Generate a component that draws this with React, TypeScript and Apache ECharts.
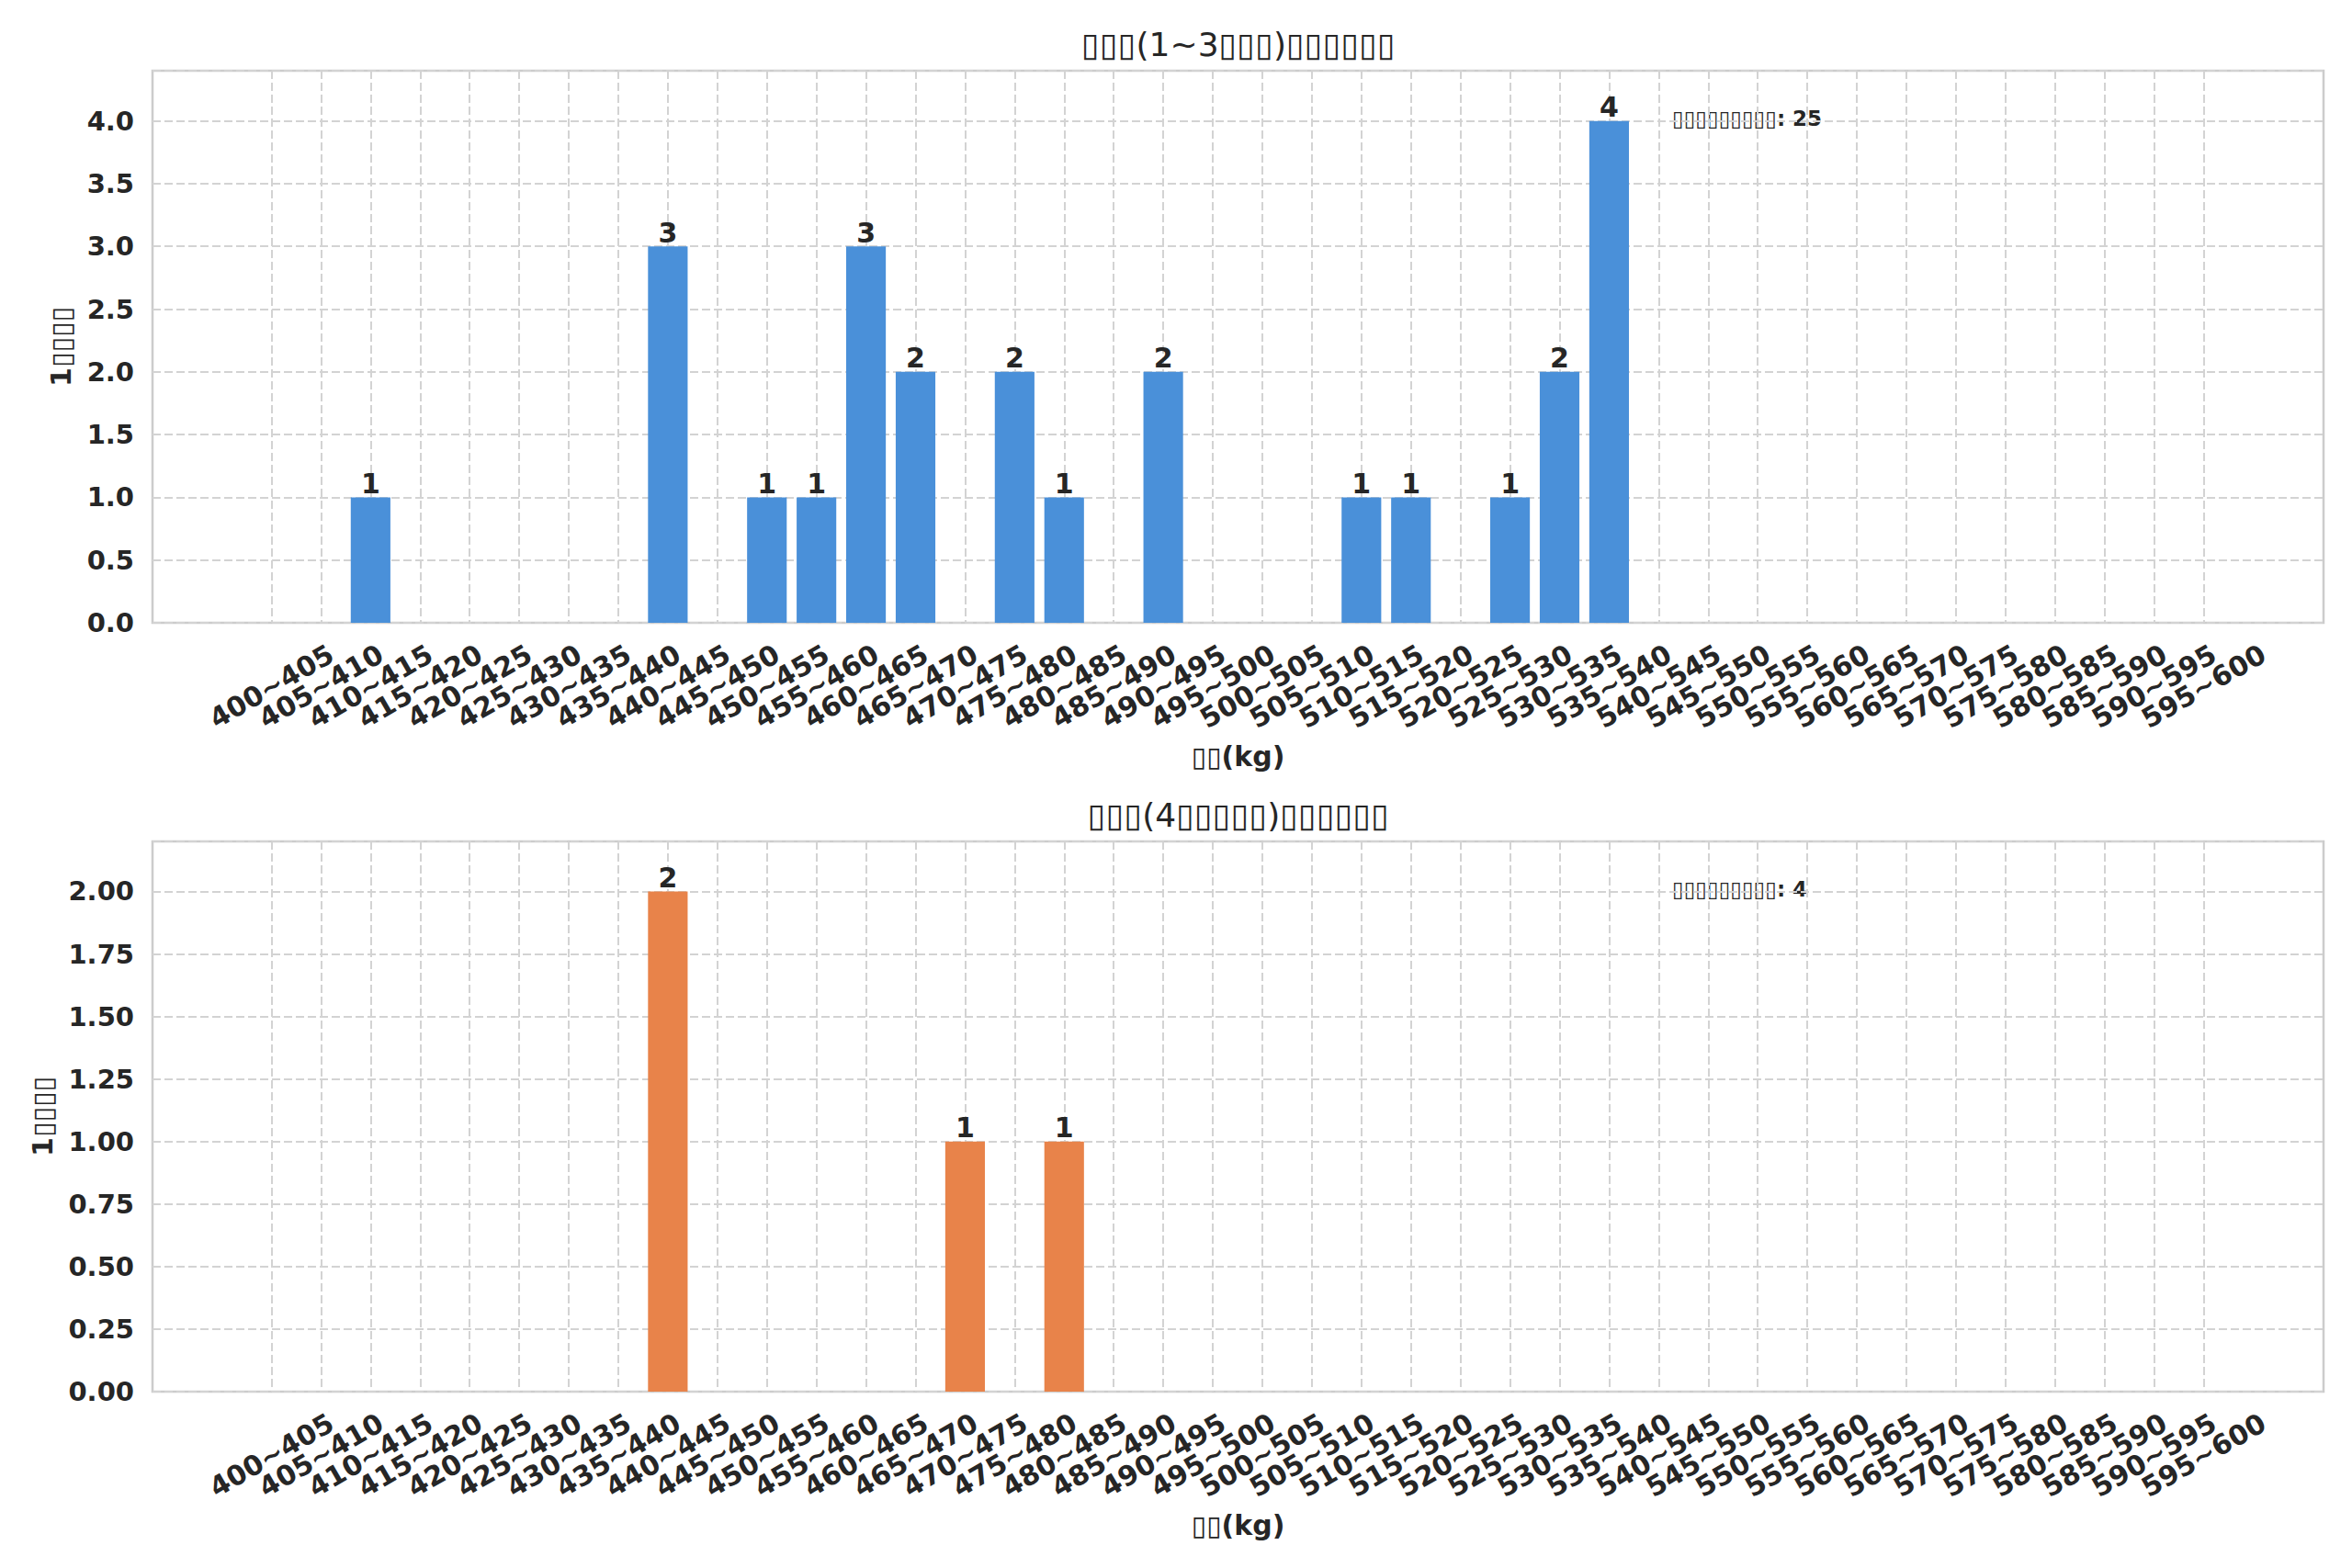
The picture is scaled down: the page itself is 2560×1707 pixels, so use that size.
import React, { useEffect, useRef } from "react";
import * as echarts from "echarts";

const categories = [
  "400~405", "405~410", "410~415", "415~420", "420~425", "425~430", "430~435", "435~440",
  "440~445", "445~450", "450~455", "455~460", "460~465", "465~470", "470~475", "475~480",
  "480~485", "485~490", "490~495", "495~500", "500~505", "505~510", "510~515", "515~520",
  "520~525", "525~530", "530~535", "535~540", "540~545", "545~550", "550~555", "555~560",
  "560~565", "565~570", "570~575", "575~580", "580~585", "585~590", "590~595", "595~600",
];

const topValues = [
  0, 0, 1, 0, 0, 0, 0, 0,
  3, 0, 1, 1, 3, 2, 0, 2,
  1, 0, 2, 0, 0, 0, 1, 1,
  0, 1, 2, 4, 0, 0, 0, 0,
  0, 0, 0, 0, 0, 0, 0, 0,
];

const bottomValues = [
  0, 0, 0, 0, 0, 0, 0, 0,
  2, 0, 0, 0, 0, 0, 1, 0,
  1, 0, 0, 0, 0, 0, 0, 0,
  0, 0, 0, 0, 0, 0, 0, 0,
  0, 0, 0, 0, 0, 0, 0, 0,
];

const topTitle = "▯▯▯(1~3▯▯▯)▯▯▯▯▯▯";
const bottomTitle = "▯▯▯(4▯▯▯▯▯)▯▯▯▯▯▯";
const xName = "▯▯(kg)";
const yName = "1▯▯▯▯";
const topNote = "▯▯▯▯▯▯▯▯▯: 25";
const bottomNote = "▯▯▯▯▯▯▯▯▯: 4";

const topYMax = 4.4;
const topYInterval = 0.5;
const bottomYMax = 2.2;
const bottomYInterval = 0.25;

const FONT = "DejaVu Sans";
const TEXT = "#262626";
const GRIDC = "#d3d3d3";

export default function App() {
  const ref = useRef<HTMLDivElement>(null);
  useEffect(() => {
    if (!ref.current) return;
    const chart = echarts.init(ref.current, undefined, { renderer: "svg" });

    const outerLeft = 166;
    const outerRight = 31;
    const innerLeft = 295.5;
    const innerRight = 161.5;
    const panels = [
      { top: 77, height: 601, values: topValues, color: "#4a90d9", max: topYMax, interval: topYInterval, dec: 1, title: topTitle, note: topNote, yGap: 85 },
      { top: 916, height: 599, values: bottomValues, color: "#e8834a", max: bottomYMax, interval: bottomYInterval, dec: 2, title: bottomTitle, note: bottomNote, yGap: 105 },
    ];

    const grid: any[] = [];
    const xAxis: any[] = [];
    const yAxis: any[] = [];
    const series: any[] = [];
    const graphic: any[] = [];

    panels.forEach((p, i) => {
      const gOuter = i * 2;
      const gInner = i * 2 + 1;
      grid.push({
        left: outerLeft, right: outerRight, top: p.top, height: p.height,
        show: true, borderColor: "#cccccc", borderWidth: 2.5, backgroundColor: "transparent",
        containLabel: false,
      });
      grid.push({
        left: innerLeft, right: innerRight, top: p.top, height: p.height,
        show: false, containLabel: false,
      });
      xAxis.push({
        gridIndex: gOuter, type: "value", min: 0, max: 1,
        axisLine: { show: false }, axisTick: { show: false }, axisLabel: { show: false }, splitLine: { show: false },
        name: xName, nameLocation: "middle", nameGap: 130,
        nameTextStyle: { fontFamily: FONT, fontSize: 30, fontWeight: "bold", color: TEXT },
      });
      xAxis.push({
        gridIndex: gInner, type: "category", data: categories, boundaryGap: false,
        axisLine: { show: false }, axisTick: { show: false },
        axisLabel: {
          rotate: 30, interval: 0, align: "center", verticalAlign: "middle", margin: 69,
          fontFamily: FONT, fontSize: 30, fontWeight: "bold", color: TEXT,
        },
        splitLine: { show: true, interval: 0, lineStyle: { color: GRIDC, width: 2, type: [9, 4] } },
      });
      yAxis.push({
        gridIndex: gOuter, type: "value", min: 0, max: p.max, interval: p.interval,
        axisLine: { show: false }, axisTick: { show: false },
        axisLabel: {
          margin: 20, fontFamily: FONT, fontSize: 29, fontWeight: "bold", color: TEXT,
          showMaxLabel: false,
          formatter: (v: number) => (Math.abs(v / p.interval - Math.round(v / p.interval)) < 1e-6 ? v.toFixed(p.dec) : ""),
        },
        splitLine: { show: true, lineStyle: { color: GRIDC, width: 2, type: [9, 4] } },
        name: yName, nameLocation: "middle", nameGap: p.yGap,
        nameTextStyle: { fontFamily: FONT, fontSize: 30, fontWeight: "bold", color: TEXT },
      });
      yAxis.push({
        gridIndex: gInner, type: "value", min: 0, max: p.max, show: false, splitLine: { show: false },
      });
      series.push({
        type: "bar", xAxisIndex: gInner, yAxisIndex: gInner, data: p.values,
        barWidth: "80%", itemStyle: { color: p.color },
        label: {
          show: true, position: "top", distance: 0,
          fontFamily: FONT, fontSize: 30, fontWeight: "bold", color: TEXT,
          formatter: (d: any) => (d.value > 0 ? String(d.value) : ""),
        },
      });
      graphic.push({
        type: "text", x: 1348, y: p.top - 29,
        style: { text: p.title, fontFamily: FONT, fontSize: 36, fill: TEXT, align: "center", verticalAlign: "middle" },
      });
      graphic.push({
        type: "text", x: 1820, y: p.top + 52,
        style: { text: p.note, fontFamily: FONT, fontSize: 23, fontWeight: "bold", fill: TEXT, align: "left", verticalAlign: "middle" },
      });
    });

    chart.setOption({
      animation: false,
      backgroundColor: "#ffffff",
      grid, xAxis, yAxis, series, graphic,
    });
    return () => chart.dispose();
  }, []);
  return (
    <div
      ref={ref}
      style={{ position: "fixed", left: 0, top: 0, width: 2560, height: 1707, background: "#fff" }}
    />
  );
}
